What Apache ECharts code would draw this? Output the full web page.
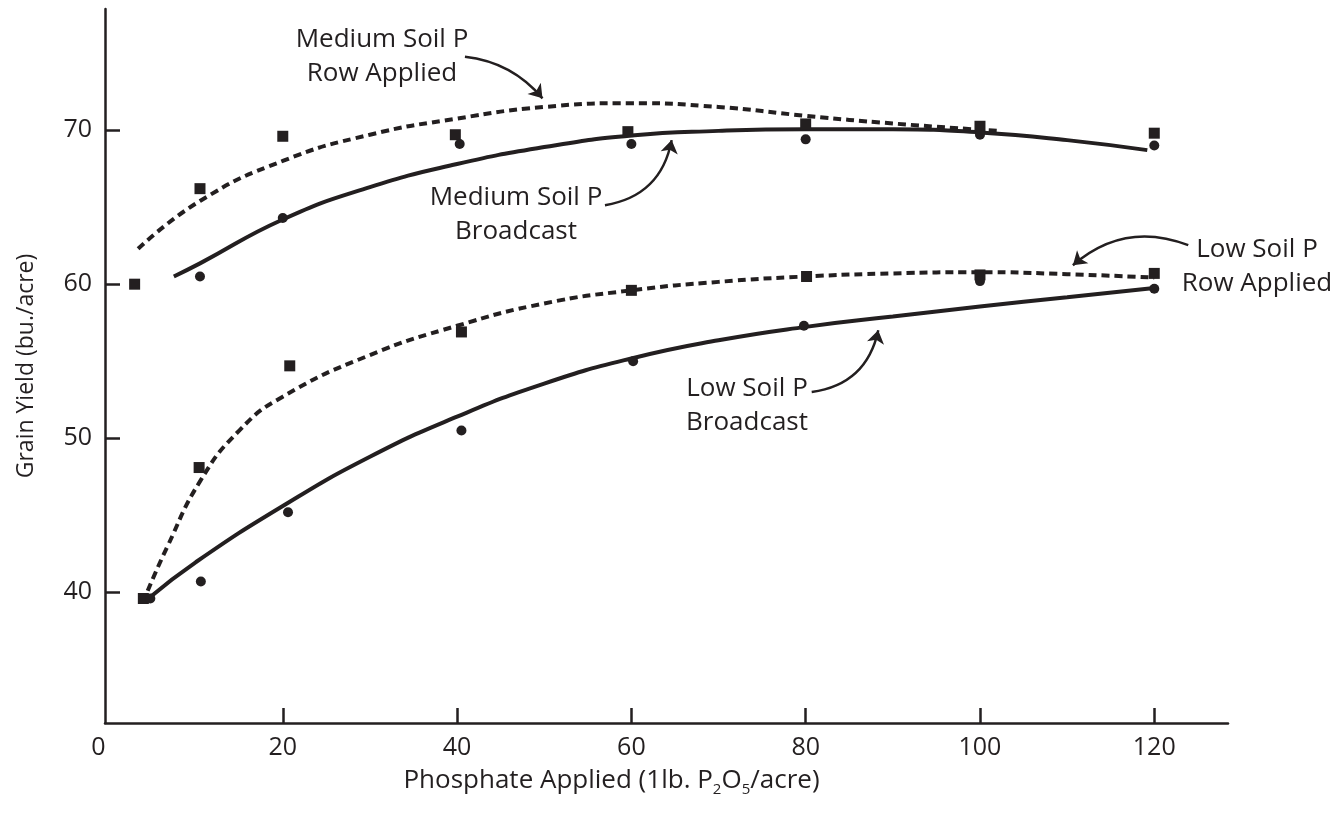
<!DOCTYPE html>
<html>
<head>
<meta charset="utf-8">
<title>Grain Yield vs Phosphate Applied</title>
<script src="https://cdn.jsdelivr.net/npm/echarts@6/dist/echarts.min.js"></script>
<style>
    html, body { margin: 0; padding: 0; background: #fff; }
    #main { width: 1343px; height: 814px; }
</style>
</head>
<body>
<div id="main"></div>
<script>
    // tick labels
    var xTicks = [0, 20, 40, 60, 80, 100, 120];
    var yTicks = [40, 50, 60, 70];

    // measured points  [lb P2O5 / acre, bu / acre]
    var medRowPts = [[3, 60.0], [10.5, 66.2], [20, 69.6], [39.8, 69.7], [59.6, 69.9], [80, 70.4], [100, 70.25], [120, 69.8]];
    var medBroadPts = [[10.5, 60.5], [20, 64.3], [40.3, 69.1], [60, 69.1], [80, 69.4], [100, 69.7], [120, 69.0]];
    var lowRowPts = [[4, 39.6], [10.4, 48.1], [20.8, 54.7], [40.5, 56.9], [60, 59.6], [80.1, 60.5], [100, 60.6], [120, 60.7]];
    var lowBroadPts = [[4.8, 39.6], [10.6, 40.7], [20.6, 45.2], [40.5, 50.5], [60.2, 55.0], [79.8, 57.3], [100, 60.2], [120, 59.7]];

    // fitted response curves
    var medRowCurve = [[3.4, 62.3], [10.5, 65.4], [20, 68.0], [30, 69.7], [40, 70.75], [50, 71.5], [60, 71.75], [70, 71.5], [80, 70.93], [90, 70.43], [102, 69.95]];
    var medBroadCurve = [[7.5, 60.5], [10.5, 61.35], [20, 64.2], [30, 66.3], [40, 67.8], [50, 68.9], [60, 69.65], [70, 69.95], [80, 70.06], [90, 70.05], [100, 69.85], [110, 69.35], [119.2, 68.7]];
    var lowRowCurve = [[4.5, 40.1], [6.7, 42.9], [10.5, 47.2], [15, 50.5], [20, 52.7], [30, 55.4], [40, 57.3], [50, 58.75], [60, 59.6], [70, 60.15], [80, 60.5], [90, 60.7], [100, 60.78], [110, 60.65], [120, 60.43]];
    var lowBroadCurve = [[4.8, 39.7], [10, 41.95], [20, 45.6], [30, 48.8], [40, 51.4], [50, 53.55], [60, 55.18], [70, 56.36], [80, 57.23], [90, 57.9], [100, 58.55], [110, 59.15], [120, 59.75]];

    var ink = '#231f20';
    var font = '"Open Sans", "Noto Sans", sans-serif';

    function curve(data, dashed) {
        return {
            type: 'line',
            data: data,
            symbol: 'none',
            smooth: 0.5,
            lineStyle: {color: ink, width: 4, type: dashed ? [8, 5] : 'solid', cap: 'butt'},
            z: 2
        };
    }

    function points(data, shape, size) {
        return {
            type: 'scatter',
            data: data,
            symbol: shape,
            symbolSize: size,
            itemStyle: {color: ink, opacity: 1},
            z: 3
        };
    }

    function note(x, y, text) {
        return {
            type: 'text',
            x: x,
            y: y,
            style: {
                text: text,
                align: 'center',
                verticalAlign: 'middle',
                fontSize: 26,
                fontFamily: font,
                lineHeight: 34,
                fill: ink
            }
        };
    }

    var myChart = echarts.init(document.getElementById('main'));
    var option = {
        animation: false,
        backgroundColor: '#fff',
        grid: {left: 105, right: 115, top: 9, bottom: 91},
        xAxis: {
            type: 'value',
            min: -0.4,
            max: 128.46,
            splitLine: {show: false},
            axisLine: {onZero: false, lineStyle: {color: ink, width: 2.5}},
            axisTick: {inside: true, length: 15, lineStyle: {color: ink, width: 2.5}, customValues: [20, 40, 60, 80, 100, 120]},
            axisLabel: {
                customValues: xTicks,
                margin: 12,
                fontSize: 25,
                fontFamily: font,
                color: ink,
                formatter: function (v) { return v === 0 ? '{z|0}' : String(v); },
                rich: {z: {fontSize: 25, fontFamily: font, color: ink, padding: [0, 20, 0, 0]}}
            },
            name: 'Phosphate Applied (1lb. P{sub|2}O{sub|5}/acre)',
            nameLocation: 'middle',
            nameGap: 33,
            nameTextStyle: {
                fontSize: 26,
                fontFamily: font,
                color: ink,
                lineHeight: 32,
                // title sits left of the axis centre in the original
                padding: [0, 110, 0, 0],
                rich: {sub: {fontSize: 15, fontFamily: font, color: ink, lineHeight: 15, verticalAlign: 'bottom'}}
            }
        },
        yAxis: {
            type: 'value',
            min: 31.52,
            max: 77.86,
            splitLine: {show: false},
            axisLine: {show: true, onZero: false, lineStyle: {color: ink, width: 2.5}},
            axisTick: {show: true, inside: true, length: 15, lineStyle: {color: ink, width: 2.5}, customValues: yTicks},
            axisLabel: {customValues: yTicks, margin: 13, fontSize: 25, fontFamily: font, color: ink},
            name: 'Grain Yield (bu./acre)',
            nameLocation: 'middle',
            nameRotate: 90,
            nameGap: 67,
            nameTextStyle: {fontSize: 23, fontFamily: font, color: ink}
        },
        series: [
            curve(medRowCurve, true),
            curve(medBroadCurve, false),
            curve(lowRowCurve, true),
            curve(lowBroadCurve, false),
            points(medRowPts, 'rect', 11),
            points(medBroadPts, 'circle', 10),
            points(lowRowPts, 'rect', 11),
            points(lowBroadPts, 'circle', 10),
            {
                // pointer arrows from the notes to their curves
                type: 'lines',
                coordinateSystem: 'cartesian2d',
                symbol: ['none', 'arrow'],
                symbolSize: [0, 13],
                lineStyle: {color: ink, width: 2.5, opacity: 1},
                data: [
                    {coords: [[40.9, 74.76], [49.8, 72.06]], lineStyle: {curveness: 0.2}},
                    {coords: [[56.97, 65.13], [64.62, 69.35]], lineStyle: {curveness: -0.35}},
                    {coords: [[123.9, 62.53], [110.66, 61.23]], lineStyle: {curveness: -0.3}},
                    {coords: [[80.69, 53.0], [88.33, 57.01]], lineStyle: {curveness: -0.35}}
                ],
                z: 4
            }
        ],
        graphic: [
            note(382, 57, 'Medium Soil P\nRow Applied'),
            note(516, 215, 'Medium Soil P\nBroadcast'),
            note(1257, 267, 'Low Soil P\nRow Applied'),
            note(747, 406, 'Low Soil P\nBroadcast')
        ]
    };
    myChart.setOption(option);
</script>
</body>
</html>
